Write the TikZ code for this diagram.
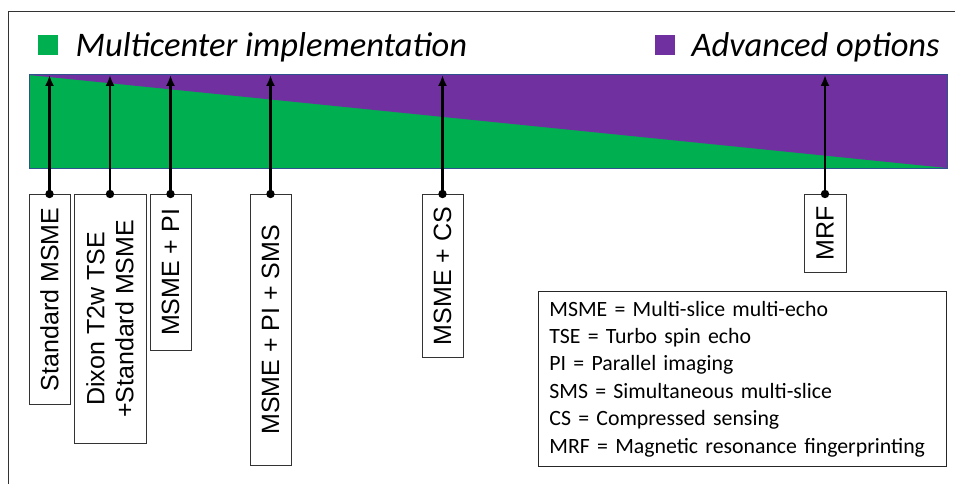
\documentclass[tikz,border=0pt]{standalone}
\usepackage{fontspec}
\setmainfont{Carlito}
\newfontfamily\arialfont{Liberation Sans}
\usetikzlibrary{arrows.meta}

\definecolor{mcgreen}{HTML}{00B050}
\definecolor{advpurple}{HTML}{7030A0}
\definecolor{barblue}{HTML}{2F528F}

\begin{document}
\begin{tikzpicture}[x=1pt, y=-1pt,
    seqbox/.style = {draw=black!80, line width=0.8pt, fill=white, rotate=90, anchor=east,
                     minimum height=41pt, inner sep=0pt, align=center,
                     font=\arialfont\fontsize{25}{29}\selectfont},
    keybox/.style = {minimum size=20pt, inner sep=0pt},
    keytext/.style = {anchor=base west, font=\itshape\fontsize{34.5}{40}\selectfont},
    tiparrow/.style = {line width=2.6pt, -{Latex[length=11pt,width=9pt]}}]
    \useasboundingbox (0,0) rectangle (955,484);

    % Frame
    \draw[line width=1pt, black!80] (8,484) -- (8,12) -- (955,12);

    % Legend
    \node[keybox, fill=mcgreen] (greenkey) at (48,45) {};
    \node[keytext] (mclabel) at (72,57) {Multicenter implementation};
    \node[keybox, fill=advpurple] (purplekey) at (665,45) {};
    \node[keytext] (advlabel) at (688,57) {Advanced options};

    % Bar
    \coordinate (BL) at (29,75);
    \fill[mcgreen] (BL) rectangle (947,168);
    \fill[advpurple] (BL) -- (947,75) -- (947,168) -- cycle;
    \draw[barblue, line width=1pt] (BL) rectangle (947,168);

    % Sequence boxes
    \node[seqbox, minimum width=210pt] (stdmsme) at (49.5,194) {Standard MSME};
    \node[seqbox, minimum width=249pt, minimum height=72pt] (dixon) at (110,194) {Dixon T2w TSE\\+Standard MSME};
    \node[seqbox, minimum width=156pt] (msmepi) at (170.5,194) {MSME + PI};
    \node[seqbox, minimum width=271pt] (msmesms) at (270.5,194) {MSME + PI + SMS};
    \node[seqbox, minimum width=163pt] (msmecs) at (442.5,194) {MSME + CS};
    \node[seqbox, minimum width=78pt, minimum height=42pt] (mrf) at (825,194) {MRF};

    % Arrows to the bar
    \foreach \n in {stdmsme,dixon,msmepi,msmesms,msmecs,mrf}{
        \draw[tiparrow] (\n.east) -- (\n.east |- BL);
        \fill (\n.east) circle (4.2pt);
    }

    % Abbreviations
    \node[draw=black!85, line width=0.8pt, anchor=north west, text width=386pt, minimum height=175pt,
          inner xsep=11pt, align=left, font=\fontsize{21.8}{27.4}\selectfont] (abbr) at (538,291)
        {MSME = Multi-slice multi-echo\\
         TSE = Turbo spin echo\\
         PI = Parallel imaging\\
         SMS = Simultaneous multi-slice\\
         CS = Compressed sensing\\
         MRF = Magnetic resonance \mbox{fingerprinting}};
\end{tikzpicture}
\end{document}
